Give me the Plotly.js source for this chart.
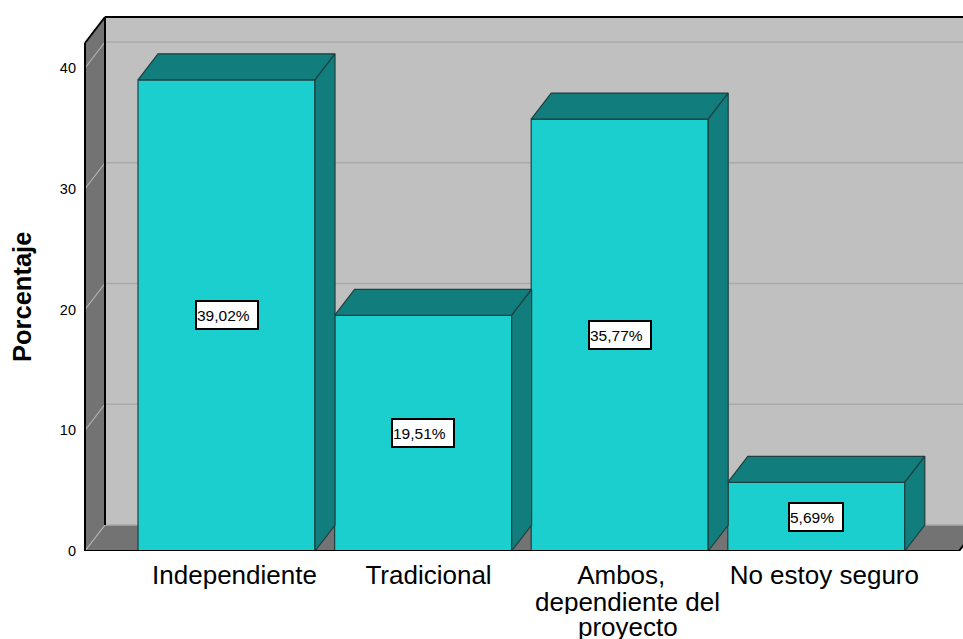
<!DOCTYPE html>
<html>
<head>
<meta charset="utf-8">
<script src="https://cdn.plot.ly/plotly-3.0.1.min.js"></script>
<style>html,body{margin:0;padding:0;background:#fff}#chart{width:963px;height:639px}</style>
</head>
<body>
<div id="chart"></div>
<script>
const categories = ["Independiente", "Tradicional", "Ambos,", "No estoy seguro"];
const tickPositions = [0, 0.987, 1.967, 3];
const extraLines = ["dependiente del", "proyecto"];
const percentages = [39.02, 19.51, 35.77, 5.69];
const percentLabels = ["39,02%", "19,51%", "35,77%", "5,69%"];
const yTicks = [0, 10, 20, 30, 40];

// Pixel calibration of the reference's pseudo-3D frame
const pxPerX = 196.6, pxPerY = 12.075, x0px = 226.5, y0px = 551;
const depthX = 20 / pxPerX, depthY = 26 / pxPerY;
const barW = 177 / pxPerX;
const xOf = p => (p - x0px) / pxPerX;
const yOf = p => (y0px - p) / pxPerY;
const left = xOf(85), right = xOf(959), top3d = yOf(43);
const marginL = 80, marginT = 10, marginB = 639 - y0px;
const FONT = "Liberation Sans, Arial, sans-serif";

const FACE = "#1ccfcf", SHADE = "#127d7d", EDGE = "#1f3f3f";
const WALL = "#737373", BACK = "#c0c0c0", GRID = "#aaaaaa", GRID2 = "#b4b4b4";

function poly(xs, ys, fill, line, layer) {
  let path = xs.map((x, i) => (i ? "L" : "M") + x + "," + ys[i]).join(" ") + " Z";
  return {type: "path", xref: "x", yref: "y", path, fillcolor: fill,
          line: line ? {color: line, width: 1} : {width: 0}, layer: layer || "below"};
}
function seg(x1, y1, x2, y2, color, width) {
  return {type: "line", xref: "x", yref: "y", x0: x1, y0: y1, x1: x2, y1: y2,
          line: {color, width}, layer: "below"};
}

const shapes = [
  poly([left + depthX, right + depthX, right + depthX, left + depthX],
       [depthY, depthY, top3d + depthY, top3d + depthY], BACK),
  poly([left, left + depthX, left + depthX, left],
       [0, depthY, top3d + depthY, top3d], WALL),
  poly([left, left + depthX, right + depthX, right],
       [0, depthY, depthY, 0], WALL)
];
yTicks.forEach(v => {
  shapes.push(seg(left, v, left + depthX, v + depthY, GRID2, 1.2));
  shapes.push(seg(left + depthX, v + depthY, right + depthX, v + depthY, GRID, 1.5));
});
shapes.push(seg(left + depthX, depthY, left + depthX, top3d + depthY, "#000", 2));
shapes.push(seg(left + depthX, top3d + depthY, right + depthX, top3d + depthY, "#000", 2));
shapes.push(seg(left, top3d, left + depthX, top3d + depthY, "#000", 2));
shapes.push(seg(left, 0, left, top3d, "#000", 2));

const traces = [{
  type: "bar", x: categories.map((_, i) => i), y: percentages, width: barW,
  marker: {color: FACE, line: {color: EDGE, width: 1.2}}, hoverinfo: "skip"
}];
percentages.forEach((v, i) => {
  const a = i - barW / 2, b = i + barW / 2;
  traces.push({type: "scatter", mode: "lines", fill: "toself", fillcolor: SHADE,
    x: [a, b, b + depthX, a + depthX, a], y: [v, v, v + depthY, v + depthY, v],
    line: {color: EDGE, width: 1.2}, hoverinfo: "skip"});
  traces.push({type: "scatter", mode: "lines", fill: "toself", fillcolor: SHADE,
    x: [b, b + depthX, b + depthX, b, b], y: [0, depthY, v + depthY, v, 0],
    line: {color: EDGE, width: 1.2}, hoverinfo: "skip"});
});
traces.push({type: "scatter", mode: "lines", hoverinfo: "skip",
  x: [left, right, right + depthX], y: [0, 0, depthY], line: {color: "#000", width: 2}});

const annotations = percentages.map((v, i) => ({
  x: i, y: v / 2, xref: "x", yref: "y", text: percentLabels[i], showarrow: false,
  font: {family: FONT, size: 15.5, color: "#000"},
  bgcolor: "#fff", bordercolor: "#000", borderwidth: 2, borderpad: 0,
  width: i === 3 ? 52 : 60, height: 26, align: "left"
}));
extraLines.forEach((t, k) => annotations.push({
  x: 2, y: 0, xref: "x", yref: "y", yanchor: "middle", yshift: -(51 + 24.5 * k), xshift: 8,
  text: t, showarrow: false, borderpad: 0, height: 24,
  font: {family: FONT, size: 26, color: "#000"}
}));
annotations.push({
  x: (22 - marginL) / (963 - marginL), y: yOf(297), xref: "paper", yref: "y",
  xanchor: "center", yanchor: "middle",
  text: "<b>Porcentaje</b>", textangle: -90, showarrow: false,
  font: {family: FONT, size: 25.5, color: "#000"}
});

Plotly.newPlot("chart", traces, {
  width: 963, height: 639, showlegend: false, paper_bgcolor: "#fff", plot_bgcolor: "#fff",
  margin: {l: marginL, r: 0, t: marginT, b: marginB, pad: 0},
  xaxis: {type: "linear", range: [xOf(marginL), xOf(963)], tickmode: "array",
    tickvals: tickPositions, ticktext: categories, ticklen: 0,
    ticklabelshift: 8, ticklabelstandoff: 6, showgrid: false, zeroline: false, showline: false,
    tickfont: {family: FONT, size: 26, color: "#000"}},
  yaxis: {range: [0, yOf(marginT)], tickmode: "array", tickvals: yTicks, ticklen: 0,
    ticklabelstandoff: 3, showgrid: false, zeroline: false, showline: false,
    tickfont: {family: FONT, size: 14.5, color: "#000"}},
  shapes, annotations
}, {displayModeBar: false, staticPlot: true});
</script>
</body>
</html>
